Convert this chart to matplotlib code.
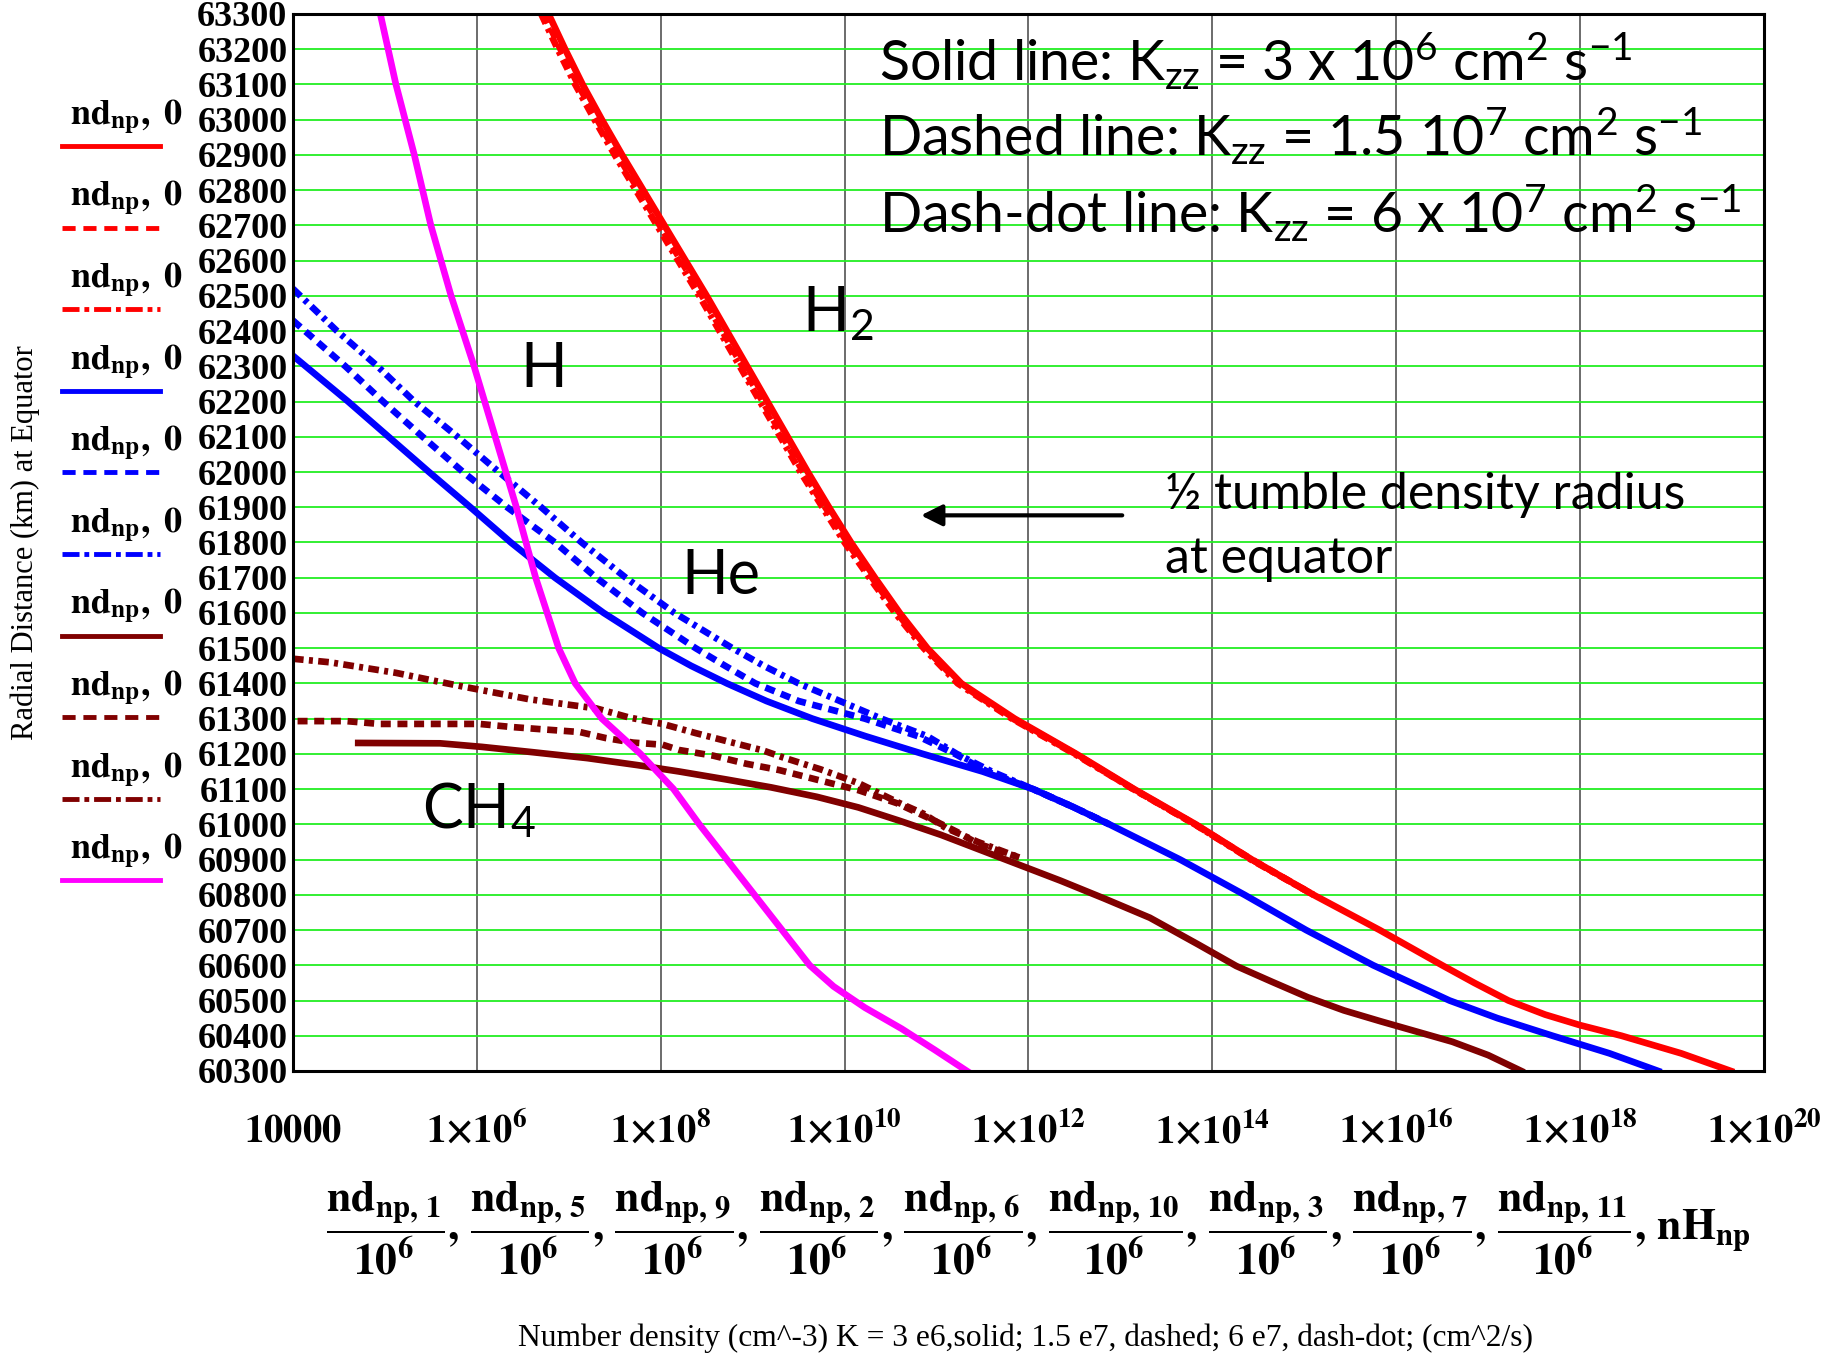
import numpy as np
import matplotlib
matplotlib.use("Agg")
import matplotlib.pyplot as plt
from matplotlib.lines import Line2D
from matplotlib.ticker import NullLocator

plt.rcParams['mathtext.fontset'] = 'stix'
plt.rcParams['mathtext.rm'] = 'Lato'
plt.rcParams['mathtext.it'] = 'Lato:italic'
plt.rcParams['mathtext.bf'] = 'Lato:bold'
plt.rcParams['mathtext.sf'] = 'Lato'

# ---- data: log10(number density), vs radius (km)
h2_solid_r = [63300, 63200, 63100, 63000, 62900, 62800, 62700, 62600, 62500, 62400, 62300,
              62200, 62100, 62000, 61900, 61800, 61700, 61600, 61500, 61400, 61300, 61200,
              61100, 61000, 60900, 60800, 60700, 60600, 60550, 60500, 60460, 60430, 60400,
              60350, 60300]
h2_solid_n = [6.78, 6.96, 7.15, 7.36, 7.58, 7.81, 8.04, 8.27, 8.50, 8.72, 8.94,
              9.16, 9.38, 9.60, 9.83, 10.07, 10.33, 10.60, 10.90, 11.27, 11.85, 12.52,
              13.15, 13.82, 14.43, 15.10, 15.82, 16.50, 16.85, 17.22, 17.62, 18.00, 18.45,
              19.10, 19.64]
h2_dash_r = [63300, 63200, 63100, 63000, 62900, 62800, 62700, 62600, 62500, 62400, 62300,
             62200, 62100, 62000, 61900, 61800, 61700, 61600, 61500, 61400, 61300, 61200,
             61100, 61000, 60900, 60800]
h2_dash_n = [6.73, 6.91, 7.10, 7.31, 7.53, 7.76, 7.99, 8.22, 8.45, 8.67, 8.89,
             9.11, 9.33, 9.55, 9.79, 10.03, 10.30, 10.57, 10.88, 11.25, 11.83, 12.51,
             13.14, 13.81, 14.43, 15.10]
h2_dd_r = [63300, 63200, 63100, 63000, 62900, 62800, 62700, 62600, 62500, 62400, 62300,
           62200, 62100, 62000, 61900, 61800, 61700, 61600, 61500, 61400, 61300, 61200,
           61100, 61000, 60900, 60800]
h2_dd_n = [6.70, 6.88, 7.07, 7.28, 7.50, 7.73, 7.96, 8.19, 8.42, 8.64, 8.86,
           9.08, 9.30, 9.52, 9.76, 10.00, 10.27, 10.55, 10.86, 11.23, 11.82, 12.50,
           13.14, 13.81, 14.42, 15.10]

he_solid_r = [62330, 62200, 62100, 62000, 61900, 61800, 61700, 61600, 61500, 61450, 61400,
              61350, 61300, 61250, 61200, 61150, 61100, 61050, 61000, 60900, 60800, 60700,
              60600, 60500, 60450, 60400, 60350, 60300]
he_solid_n = [4.00, 4.60, 5.04, 5.48, 5.93, 6.37, 6.85, 7.38, 7.98, 8.33, 8.72,
              9.15, 9.65, 10.23, 10.85, 11.50, 12.05, 12.48, 12.88, 13.65, 14.35, 15.02,
              15.75, 16.58, 17.10, 17.70, 18.32, 18.85]
he_dash_r = [62430, 62300, 62200, 62100, 62000, 61900, 61800, 61700, 61600, 61500, 61450,
             61400, 61350, 61300, 61250, 61200, 61150, 61100, 61050, 61000]
he_dash_n = [4.00, 4.57, 4.98, 5.41, 5.85, 6.33, 6.85, 7.30, 7.80, 8.38, 8.70,
             9.03, 9.50, 10.22, 10.80, 11.20, 11.55, 12.05, 12.48, 12.88]
he_dd_r = [62520, 62400, 62300, 62200, 62100, 62000, 61900, 61800, 61700, 61600, 61500,
           61450, 61400, 61350, 61300, 61250, 61200, 61150, 61100, 61050, 61000]
he_dd_n = [4.00, 4.48, 4.92, 5.32, 5.79, 6.24, 6.70, 7.14, 7.62, 8.15, 8.78,
           9.12, 9.50, 9.95, 10.40, 10.90, 11.22, 11.60, 12.05, 12.48, 12.88]

ch4_solid_r = [61231, 61230, 61220, 61205, 61188, 61168, 61150, 61128, 61105, 61078, 61048,
               61010, 60970, 60930, 60885, 60840, 60790, 60735, 60660, 60598, 60553, 60509,
               60472, 60441, 60412, 60383, 60345, 60300]
ch4_solid_n = [4.71, 5.60, 6.05, 6.60, 7.20, 7.75, 8.20, 8.70, 9.20, 9.70, 10.15,
               10.60, 11.05, 11.45, 11.90, 12.35, 12.82, 13.32, 13.84, 14.26, 14.65, 15.04,
               15.43, 15.83, 16.22, 16.61, 17.00, 17.36]
ch4_dash_r = [61293, 61293, 61285, 61285, 61276, 61269, 61262, 61245, 61232, 61226, 61211,
              61195, 61172, 61154, 61124, 61097, 61060, 61010, 60975, 60945, 60906]
ch4_dash_n = [4.05, 4.58, 4.94, 6.03, 6.39, 6.75, 7.12, 7.40, 7.70, 8.02, 8.20,
              8.57, 8.93, 9.29, 9.74, 10.15, 10.57, 10.98, 11.25, 11.45, 11.90]
ch4_dd_r = [61470, 61460, 61445, 61430, 61410, 61391, 61373, 61355, 61342, 61329, 61303,
            61285, 61259, 61234, 61210, 61190, 61156, 61117, 61060, 61030, 60990, 60950,
            60906]
ch4_dd_n = [4.00, 4.40, 4.76, 5.12, 5.49, 5.85, 6.21, 6.57, 6.93, 7.30, 7.66,
            8.02, 8.38, 8.75, 9.11, 9.33, 9.74, 10.15, 10.60, 10.86, 11.10, 11.45,
            11.90]

h_r = [63300, 63100, 62900, 62700, 62500, 62300, 62100, 61900, 61700, 61500, 61400,
       61300, 61200, 61100, 61000, 60900, 60800, 60700, 60600, 60540, 60480, 60420,
       60360, 60300]
h_n = [4.95, 5.12, 5.32, 5.50, 5.72, 5.97, 6.20, 6.43, 6.64, 6.89, 7.07,
       7.36, 7.78, 8.14, 8.42, 8.72, 9.02, 9.32, 9.62, 9.88, 10.22, 10.62,
       10.98, 11.33]

x_ticks = [1e4, 1e6, 1e8, 1e10, 1e12, 1e14, 1e16, 1e18, 1e20]
x_ticklabels = [r"$\mathbf{10000}$", r"$\mathbf{1{\times}10^{6}}$", r"$\mathbf{1{\times}10^{8}}$",
                r"$\mathbf{1{\times}10^{10}}$", r"$\mathbf{1{\times}10^{12}}$",
                r"$\mathbf{1{\times}10^{14}}$", r"$\mathbf{1{\times}10^{16}}$",
                r"$\mathbf{1{\times}10^{18}}$", r"$\mathbf{1{\times}10^{20}}$"]
y_ticks = list(range(60300, 63301, 100))
frac_idx = ["1", "5", "9", "2", "6", "10", "3", "7", "11"]

RED, BLUE, BROWN, MAG = "#ff0000", "#0000ff", "#800000", "#ff00ff"
DASH = (1.5, 1.0)
DDOT = (1.6, 0.8, 0.6, 0.8)

series = [
    (h2_solid_r, h2_solid_n, RED, None),
    (h2_dash_r, h2_dash_n, RED, DASH),
    (h2_dd_r, h2_dd_n, RED, DDOT),
    (he_solid_r, he_solid_n, BLUE, None),
    (he_dash_r, he_dash_n, BLUE, DASH),
    (he_dd_r, he_dd_n, BLUE, DDOT),
    (ch4_solid_r, ch4_solid_n, BROWN, None),
    (ch4_dash_r, ch4_dash_n, BROWN, DASH),
    (ch4_dd_r, ch4_dd_n, BROWN, DDOT),
    (h_r, h_n, MAG, None),
]

fig = plt.figure(figsize=(18.31, 13.55), dpi=100)
ax = fig.add_axes([0.1600, 0.2096, 0.8034, 0.7801])

for r, n, c, d in series:
    ln, = ax.plot(10.0 ** np.array(n), r, color=c, lw=4.8, solid_joinstyle='round')
    if d is not None:
        ln.set_dashes(d)

ax.set_xscale('log')
ax.set_xlim(1e4, 1e20)
ax.set_ylim(60300, 63300)
ax.xaxis.set_minor_locator(NullLocator())
ax.set_xticks(x_ticks)
ax.set_xticklabels(x_ticklabels, fontsize=28)
ax.set_yticks(y_ticks)
ax.set_yticklabels([str(v) for v in y_ticks], fontsize=26, fontweight='bold',
                   family='Liberation Serif')
ax.tick_params(axis='x', length=0, pad=29)
ax.tick_params(axis='y', length=0, pad=4)
ax.yaxis.grid(True, color='#22ee22', lw=1.3)
ax.xaxis.grid(True, color='#606060', lw=1.3)
ax.set_axisbelow(True)
for s in ax.spines.values():
    s.set_linewidth(2.2)
    s.set_color('black')

# legend-like keys on the left
W, H = 1831.0, 1355.0
for i, (r, n, c, d) in enumerate(series):
    yl = 146 + i * 81.6
    ln = Line2D([62 / W, 160 / W], [1 - yl / H, 1 - yl / H], transform=fig.transFigure,
                color=c, lw=3.5)
    if d is not None:
        ln.set_dashes((2.7, 1.6) if d == DASH else (3.5, 1.0, 1.0, 1.0))
    fig.add_artist(ln)
    fig.text(70 / W, 1 - (yl - 22) / H, r"$\mathbf{nd}_{\mathbf{np}}\mathbf{,\ 0}$",
             fontsize=26, ha='left', va='baseline')

fig.text(25 / W, 1 - 543 / H, "Radial Distance (km) at Equator", rotation=90,
         family='Liberation Serif', fontsize=22, ha='center', va='center')

frac = r"\mathbf{,\,}".join(r"\dfrac{\mathbf{nd}_{\mathbf{np,\,%s}}}{\mathbf{10^{6}}}" % k
                            for k in frac_idx)
fig.text(1038 / W, 1 - 1228 / H, "$" + frac + r"\mathbf{,\,nH}_{\mathbf{np}}$",
         fontsize=31.5, ha='center', va='center')
fig.text(1026 / W, 1 - 1338 / H,
         "Number density (cm^-3) K = 3 e6,solid; 1.5 e7, dashed; 6 e7, dash-dot; (cm^2/s)",
         family='Liberation Serif', fontsize=22.7, ha='center', va='center')

# annotations
sans = dict(family=['Lato', 'DejaVu Sans'], math_fontfamily='custom', ha='left',
            va='baseline', fontsize=40)
ax.text(10 ** 10.37, 63113, r"Solid line: K$_{\mathrm{zz}}$ = 3 x 10$^{6}$ cm$^{2}$ s$^{-1}$", **sans)
ax.text(10 ** 10.37, 62898, r"Dashed line: K$_{\mathrm{zz}}$ = 1.5 10$^{7}$ cm$^{2}$ s$^{-1}$", **sans)
ax.text(10 ** 10.37, 62680, r"Dash-dot line: K$_{\mathrm{zz}}$ = 6 x 10$^{7}$ cm$^{2}$ s$^{-1}$", **sans)
note = dict(sans, fontsize=36)
ax.text(10 ** 13.49, 61895, "½ tumble density radius", **note)
ax.text(10 ** 13.49, 61712, "at equator", **note)
big = dict(sans, fontsize=44)
ax.text(10 ** 9.54, 62397, r"H$_{2}$", **big)
ax.text(10 ** 6.47, 62241, "H", **big)
ax.text(10 ** 8.23, 61654, "He", **big)
ax.text(10 ** 5.40, 60987, r"CH$_{4}$", **big)
ax.annotate("", xy=(10 ** 10.80, 61877), xytext=(10 ** 13.05, 61877),
            arrowprops=dict(arrowstyle='-|>', color='black', lw=3, mutation_scale=32))

fig.savefig("out.png", dpi=100)
